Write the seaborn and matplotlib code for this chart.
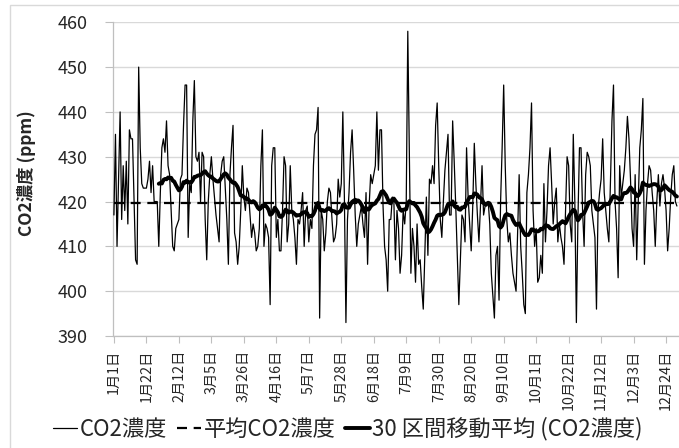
import numpy as np
import pandas as pd
import matplotlib
matplotlib.use("Agg")
import matplotlib.pyplot as plt
import seaborn as sns
from matplotlib.patches import Rectangle

# Daily CO2 concentration (ppm), one list per month
jan = [417, 435, 410, 425, 440, 416, 428, 418, 429, 415, 436, 434, 434, 420, 407, 406,
       450, 432, 424, 423, 423, 423, 425, 429, 422, 428, 420, 420, 420, 410, 422]
feb = [432, 434, 431, 438, 428, 426, 418, 410, 409, 414, 415, 416, 425, 426, 437, 446,
       446, 412, 424, 422, 438, 447, 430, 429, 431, 420, 431, 430]
mar = [416, 407, 420, 426, 430, 425, 421, 417, 414, 411, 426, 429, 430, 423, 416, 406,
       426, 432, 437, 413, 411, 406, 410, 418, 428, 421, 418, 423, 422, 417, 412]
apr = [415, 413, 409, 410, 414, 428, 436, 410, 415, 414, 412, 397, 428, 432, 432, 412,
       416, 409, 409, 418, 430, 428, 411, 415, 428, 418, 416, 412, 406, 416]
may = [415, 418, 422, 410, 418, 419, 411, 416, 414, 428, 435, 436, 441, 394, 418, 416,
       409, 413, 420, 423, 422, 416, 411, 412, 415, 425, 421, 424, 440, 421, 393]
jun = [416, 422, 431, 436, 427, 417, 410, 415, 417, 419, 415, 412, 422, 406, 419, 426,
       424, 426, 428, 440, 427, 436, 436, 419, 410, 407, 400, 416, 416, 421]
jul = [420, 407, 418, 414, 404, 408, 418, 415, 420, 458, 430, 404, 414, 410, 402, 415,
       406, 407, 401, 396, 408, 421, 408, 425, 424, 428, 424, 437, 442, 428, 416]
aug = [412, 420, 427, 431, 435, 417, 417, 438, 429, 419, 408, 397, 407, 417, 416, 411,
       432, 421, 415, 409, 419, 433, 424, 417, 411, 419, 428, 417, 419, 419, 420]
sep = [415, 404, 399, 394, 408, 410, 398, 420, 432, 446, 428, 416, 411, 413, 408, 404,
       402, 400, 413, 426, 410, 404, 397, 395, 422, 426, 432, 442, 418, 410]
oct_ = [414, 402, 403, 408, 404, 424, 411, 418, 428, 432, 424, 415, 420, 423, 411, 415,
        412, 410, 406, 418, 430, 428, 415, 411, 435, 420, 393, 416, 432, 432, 418]
nov = [410, 426, 431, 430, 428, 418, 415, 412, 396, 418, 422, 425, 434, 422, 418, 414,
       411, 424, 438, 446, 420, 414, 403, 428, 421, 424, 427, 432, 439, 434]
dec = [425, 414, 410, 426, 407, 420, 432, 436, 443, 406, 418, 424, 428, 427, 422, 418,
       410, 420, 426, 419, 424, 426, 423, 418, 409, 414, 421, 426, 428, 420, 419]

# Category labels shown every 21 days
tick_labels = ["1月1日", "1月22日", "2月12日", "3月5日", "3月26日", "4月16日",
               "5月7日", "5月28日", "6月18日", "7月9日", "7月30日", "8月20日",
               "9月10日", "10月1日", "10月22日", "11月12日", "12月3日", "12月24日"]
tick_step = 21
y_ticks = [390, 400, 410, 420, 430, 440, 450, 460]
window = 30

co2 = np.array(jan + feb + mar + apr + may + jun + jul + aug + sep + oct_ + nov + dec,
               dtype=float)
df = pd.DataFrame({"day": np.arange(len(co2)), "co2": co2})
df["mean"] = df["co2"].mean()
df["ma"] = df["co2"].rolling(window).mean()

sns.set_theme(style="white")
plt.rcParams["font.family"] = ["Noto Sans CJK JP", "DejaVu Sans"]

W, H = 679, 448
fig = plt.figure(figsize=(W / 100, H / 100), dpi=100)
fig.patch.set_facecolor("white")
ax = fig.add_axes([113 / W, 1 - 336 / H, 567 / W, (336 - 22.3) / H])

sns.lineplot(data=df, x="day", y="co2", ax=ax, color="black", lw=0.9,
             label="CO2濃度", zorder=3)
sns.lineplot(data=df, x="day", y="mean", ax=ax, color="black", lw=1.6,
             linestyle=(0, (4.5, 3)), label="平均CO2濃度", zorder=4)
sns.lineplot(data=df.dropna(), x="day", y="ma", ax=ax, color="black", lw=2.8,
             label="30 区間移動平均 (CO2濃度)", zorder=5)

ax.set_ylim(390, 460)
ax.set_xlim(-0.6, 366)
ax.set_yticks(y_ticks)
ax.set_xticks(np.arange(len(tick_labels)) * tick_step)
ax.set_xticklabels(tick_labels, rotation=90, fontsize=10.3, color="#262626")
ax.tick_params(axis="y", labelsize=13, colors="#262626", length=6, width=0.8,
               pad=12, color="#bfbfbf")
ax.tick_params(axis="x", length=5, width=0.8, pad=5, color="#bfbfbf")
ax.tick_params(axis="both", which="both", direction="out")
ax.xaxis.set_ticks_position("bottom")
ax.yaxis.set_ticks_position("left")
ax.grid(axis="y", color="#d9d9d9", lw=1)
ax.grid(axis="x", visible=False)
for side in ["top", "right"]:
    ax.spines[side].set_visible(False)
for side in ["left", "bottom"]:
    ax.spines[side].set_color("#bfbfbf")
    ax.spines[side].set_linewidth(0.9)

ax.set_xlabel("")
ax.set_ylabel("CO2濃度 (ppm)", fontsize=12.5, fontweight="bold", color="#262626")
ax.yaxis.set_label_coords(-0.135, 0.52)

ax.legend(loc="center", bbox_to_anchor=(0.512, 1 - 429 / H),
          bbox_transform=fig.transFigure, ncol=3, frameon=False, fontsize=16,
          handlelength=1.1, handletextpad=0.1, columnspacing=0.45,
          labelcolor="#262626")

# chart area border
fig.add_artist(Rectangle((10 / W, -0.1), 1.2, 1 - 5 / H + 0.1,
                         transform=fig.transFigure, fill=False,
                         edgecolor="#d9d9d9", lw=1))

fig.savefig("out.png", dpi=100)
